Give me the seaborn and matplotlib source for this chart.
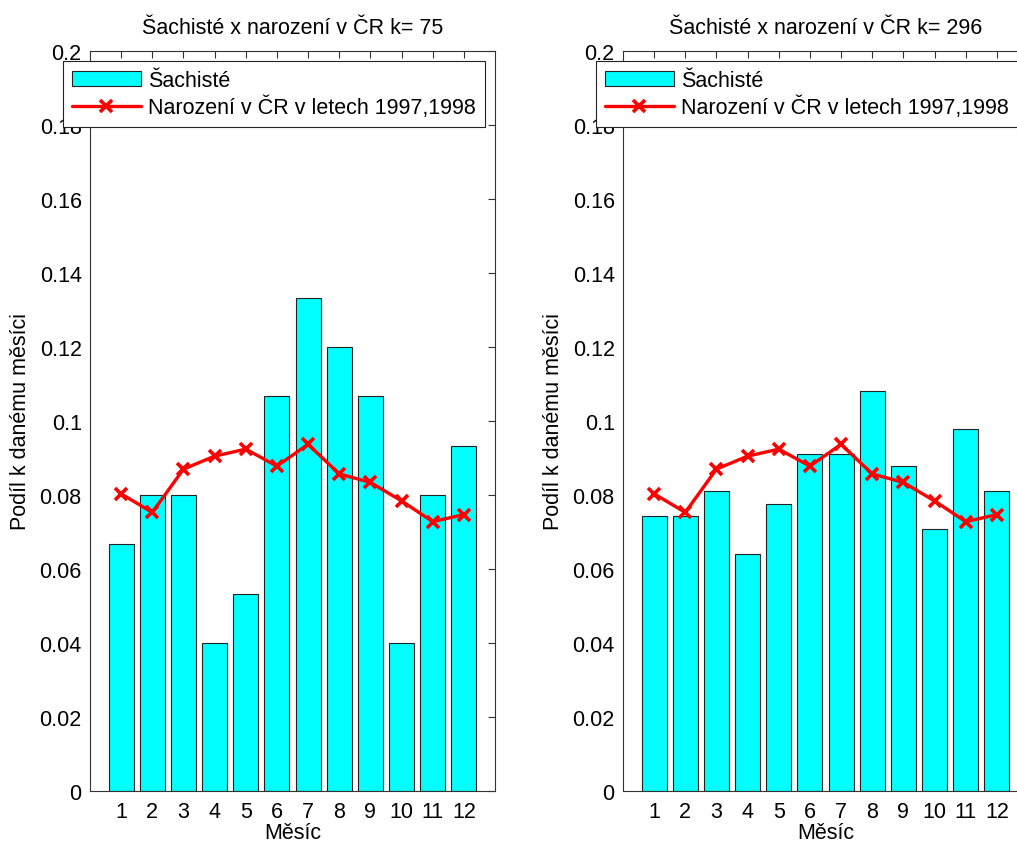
import numpy as np
import pandas as pd
import matplotlib
matplotlib.use("Agg")
import matplotlib.pyplot as plt
import seaborn as sns

# Months and shares of births per month
months = list(range(1, 13))
chess_k75 = [5/75, 6/75, 6/75, 3/75, 4/75, 8/75, 10/75, 9/75, 8/75, 3/75, 6/75, 7/75]
chess_k296 = [22/296, 22/296, 24/296, 19/296, 23/296, 27/296, 27/296, 32/296,
              26/296, 21/296, 29/296, 24/296]
births_cr = [0.0803, 0.0753, 0.0870, 0.0905, 0.0924, 0.0878,
             0.0937, 0.0857, 0.0834, 0.0784, 0.0728, 0.0747]
titles = ["Šachisté x narození v ČR k= 75", "Šachisté x narození v ČR k= 296"]
bar_label = "Šachisté"
line_label = "Narození v ČR v letech 1997,1998"
ylabel = "Podíl k danému měsíci"
xlabel = "Měsíc"
yticks = [0, 0.02, 0.04, 0.06, 0.08, 0.1, 0.12, 0.14, 0.16, 0.18, 0.2]
ytick_labels = ["0", "0.02", "0.04", "0.06", "0.08", "0.1", "0.12", "0.14", "0.16", "0.18", "0.2"]

sns.set_theme(style="white")
plt.rcParams["font.family"] = ["Liberation Sans", "DejaVu Sans"]
FS = 15.5
plt.rcParams.update({
    "font.size": FS,
    "text.color": "black",
    "axes.labelcolor": "black",
    "xtick.labelcolor": "black",
    "ytick.labelcolor": "black",
})

W, H = 1017, 845
fig = plt.figure(figsize=(W / 100, H / 100), dpi=100)

ax_w, ax_h = 405, 740
lefts = [90, 623]
top = 52

for i, (left, shares) in enumerate(zip(lefts, [chess_k75, chess_k296])):
    ax = fig.add_axes([left / W, 1 - (top + ax_h) / H, ax_w / W, ax_h / H])
    df = pd.DataFrame({"month": months, "share": shares, "births": births_cr})
    sns.barplot(data=df, x="month", y="share", native_scale=True, width=0.8,
                color="#00ffff", saturation=1, edgecolor="#222222", linewidth=0.8,
                label=bar_label, ax=ax)
    sns.lineplot(data=df, x="month", y="births", color="#ff0000", linewidth=2.4,
                 marker="x", markersize=9, markeredgewidth=2.6,
                 markeredgecolor="#ff0000", label=line_label, ax=ax)
    ax.set_xlim(0, 13)
    ax.set_ylim(0, 0.2)
    ax.set_xticks(months)
    ax.set_xticklabels([str(m) for m in months])
    ax.set_yticks(yticks)
    ax.set_yticklabels(ytick_labels)
    ax.tick_params(direction="in", length=5, width=0.8, color="#333333",
                   labelcolor="black", top=True, right=True, labelsize=FS)
    ax.tick_params(axis="y", pad=6)
    ax.tick_params(axis="x", pad=7)
    for sp in ax.spines.values():
        sp.set_color("#333333")
        sp.set_linewidth(0.8)
    ax.set_xlabel(xlabel, fontsize=FS, labelpad=0, color="black")
    ax.set_ylabel(ylabel, fontsize=FS, labelpad=6, color="black")
    ax.set_title(titles[i], fontsize=FS, pad=13, color="black")

    handles, labels = ax.get_legend_handles_labels()
    order = [labels.index(bar_label), labels.index(line_label)]
    leg = ax.legend([handles[j] for j in order], [labels[j] for j in order],
                    loc="upper left", bbox_to_anchor=(-0.067, 0.986),
                    borderaxespad=0, fancybox=False, framealpha=1,
                    edgecolor="#222222", handlelength=3.2, handletextpad=0.35,
                    borderpad=0.42, labelspacing=0.2, fontsize=FS)
    leg.get_frame().set_linewidth(0.8)
    for t in leg.get_texts():
        t.set_color("black")

fig.savefig("out.png", dpi=100)
